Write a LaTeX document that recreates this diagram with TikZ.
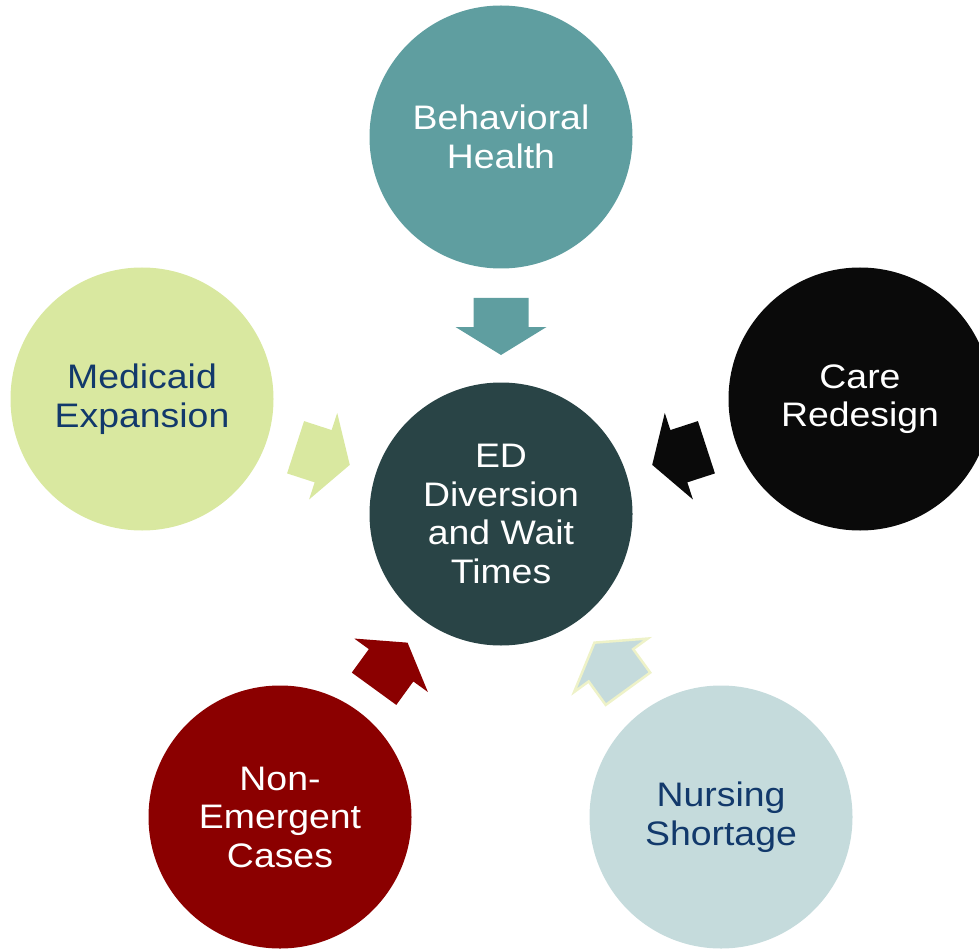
\documentclass[tikz,border=0pt]{standalone}
\usepackage{fontspec}
\setmainfont{Liberation Sans}[FakeStretch=1.1]
\definecolor{bhcol}{HTML}{5F9EA0}
\definecolor{edcol}{HTML}{294446}
\definecolor{mecol}{HTML}{D9E8A0}
\definecolor{crcol}{HTML}{0A0A0A}
\definecolor{necol}{HTML}{8B0000}
\definecolor{nscol}{HTML}{C5DBDC}
\definecolor{bluetext}{HTML}{12396B}
\definecolor{edgeyellow}{HTML}{EEF2C8}
\tikzset{
  bubble/.style={circle, minimum size=263pt, inner sep=0pt, align=center,
    font=\fontsize{34}{38.5}\selectfont},
  blockarrow/.pic={
    \path[pic actions] (-27.5,-216) -- (27.5,-216) -- (27.5,-187) -- (45.5,-187)
      -- (0,-159) -- (-45.5,-187) -- (-27.5,-187) -- cycle;
  }
}
\begin{document}
\begin{tikzpicture}[x=1pt,y=-1pt]
\useasboundingbox (0,0) rectangle (979,949);
\begin{scope}
\clip (0,0) rectangle (979,949);
\node[bubble, fill=edcol, text=white] (ed) at (501,514) {ED\\Diversion\\and Wait\\Times};
\node[bubble, fill=bhcol, text=white] (bh) at (501,137) {Behavioral\\Health};
\node[bubble, fill=mecol, text=bluetext] (me) at (142,399) {Medicaid\\Expansion};
\node[bubble, fill=crcol, text=white] (cr) at (860,399) {Care\\Redesign};
\node[bubble, fill=necol, text=white] (ne) at (280,817) {Non-\\Emergent\\Cases};
\node[bubble, fill=nscol, text=bluetext] (ns) at (721,817) {Nursing\\Shortage};
\end{scope}
\pic[fill=bhcol, shift={(ed.center)}, rotate=0] {blockarrow};
\pic[fill=mecol, shift={(ed.center)}, rotate=72] {blockarrow};
\pic[fill=crcol, shift={(ed.center)}, rotate=-72] {blockarrow};
\pic[fill=necol, shift={(ed.center)}, rotate=144] {blockarrow};
\pic[fill=nscol, draw=edgeyellow, line width=2.5pt, line join=miter, shift={(ed.center)}, rotate=-144] {blockarrow};
\end{tikzpicture}
\end{document}
